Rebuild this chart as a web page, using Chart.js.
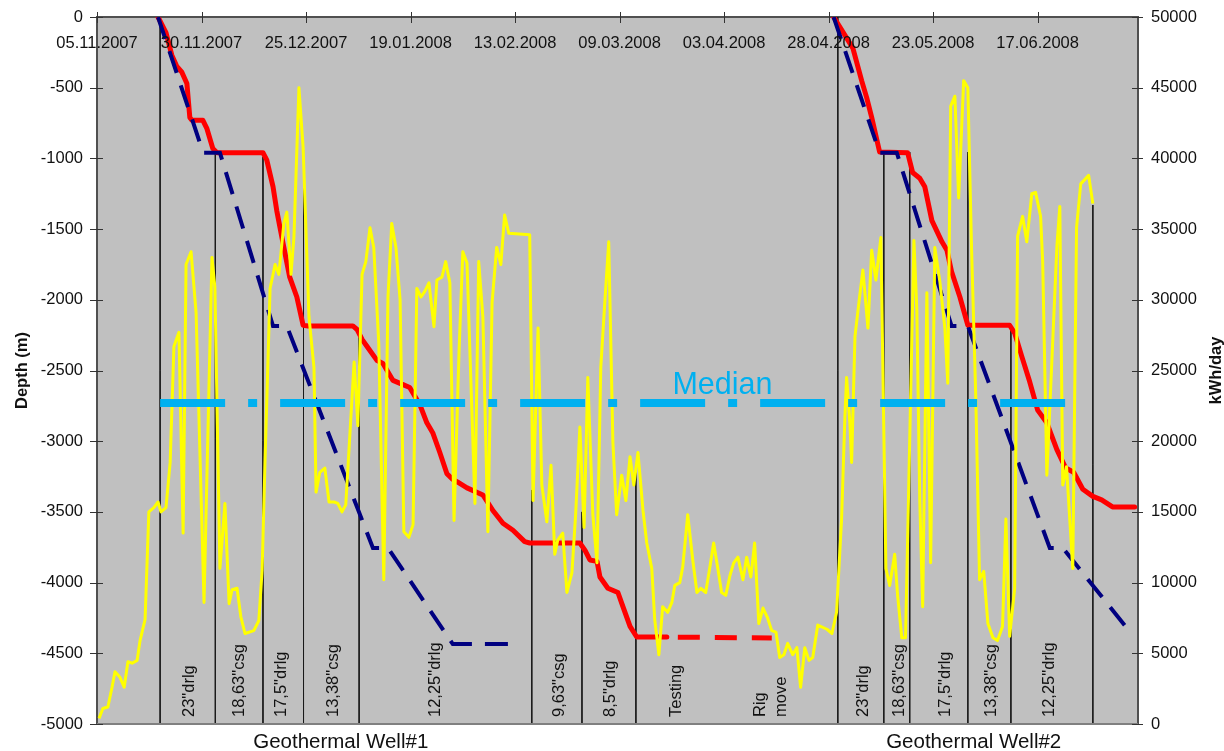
<!DOCTYPE html>
<html>
<head>
<meta charset="utf-8">
<title>Geothermal wells - depth and kWh/day</title>
<script src="https://cdn.jsdelivr.net/npm/chart.js@4.4.1/dist/chart.umd.min.js"></script>
<style>
  html, body { margin: 0; padding: 0; background: #ffffff; }
  #wrap { width: 1224px; height: 751px; }
</style>
</head>
<body>
<div id="wrap"><canvas id="chart" width="1224" height="751"></canvas></div>
<script>
// ---- date axis labels (tick every 25 days) ----
const dateLabels = ['05.11.2007', '30.11.2007', '25.12.2007', '19.01.2008', '13.02.2008',
                    '09.03.2008', '03.04.2008', '28.04.2008', '23.05.2008', '17.06.2008'];
const lastDay = 249; // 11.07.2008

// ---- actual drilling depth (m), days since 05.11.2007 ----
const actualDays = [14.6,16.5,17.9,19.1,20.3,21.5,22.2,22.7,25.3,26.3,27.7,28.7,39.7,40.6,42.1,43.0,44.5,46.1,47.8,49.3,
  50.5,61.2,62.2,63.4,64.6,67.0,68.4,70.8,73.2,74.8,77.2,78.9,80.3,82.0,83.7,85.1,86.3,88.5,92.3,94.7,
  97.1,99.5,102.3,103.5,115.5,116.7,117.9,119.6,120.3,122.2,124.6,125.8,127.5,129.1,136.3,
  null,
  176.2,180.8,182.9,184.1,185.3,187.2,193.9,195.1,196.8,198.0,199.7,202.1,203.3,204.4,206.4,208.3,
  218.3,219.5,221.2,223.1,225.0,227.2,229.6,231.7,233.6,235.8,238.2,240.3,242.9,248.2];
const actualDepth = [0,-110,-270,-350,-390,-470,-710,-730,-730,-790,-930,-960,-960,-1010,-1200,-1370,-1600,-1840,-1980,-2180,
  -2185,-2185,-2210,-2280,-2330,-2430,-2450,-2570,-2600,-2620,-2740,-2870,-2940,-3080,-3230,-3270,-3290,-3330,-3380,-3490,
  -3580,-3630,-3710,-3720,-3720,-3770,-3840,-3850,-3960,-4040,-4070,-4170,-4310,-4385,-4385,
  null,
  0,-220,-450,-570,-710,-955,-960,-1100,-1140,-1200,-1440,-1590,-1650,-1800,-1980,-2180,
  -2180,-2235,-2400,-2580,-2780,-2870,-3060,-3190,-3220,-3340,-3390,-3415,-3465,-3465];

// ---- testing period (well #1 at final depth) ----
const testingDays = [136.3, 161.4];
const testingDepth = [-4385, -4392];

// ---- planned depth (m) ----
const planDays = [14.6,25.4,29.4,42.1,45.4,66.0,69.6,85.1,100.7, null,
  176.2,187.2,191.3,204.4,208.3,227.9,231.0,247.5];
const planDepth = [0,-960,-960,-2185,-2185,-3755,-3755,-4435,-4435, null,
  0,-960,-960,-2185,-2185,-3755,-3755,-4364];

// ---- energy consumption (kWh/day) ----
const energyDays = [0.5,1.4,2.6,3.6,4.3,5.5,6.5,7.4,8.4,9.6,
  10.3,11.5,12.4,13.6,14.6,15.3,16.5,17.5,18.4,19.6,
  20.6,21.3,22.5,23.7,25.6,27.5,28.2,29.4,30.6,31.6,
  32.3,33.5,34.4,35.4,37.5,38.7,39.5,40.2,41.4,42.6,
  43.5,44.7,45.4,46.4,47.1,48.3,49.3,50.7,51.9,52.4,
  53.3,54.5,55.5,56.7,57.6,58.6,59.5,61.5,62.4,63.4,
  64.3,65.3,66.2,67.4,68.6,69.6,70.5,71.5,72.5,73.4,
  74.6,75.6,76.5,77.5,78.4,79.4,80.6,81.3,82.5,83.4,
  84.4,85.4,86.6,87.5,88.5,90.4,91.3,92.3,93.5,94.5,
  95.6,96.6,97.5,98.5,103.5,104.3,105.5,106.4,107.6,108.6,
  109.5,110.2,111.4,112.4,113.6,114.5,115.5,116.5,117.4,118.6,
  119.6,120.5,121.5,122.4,123.4,124.3,125.5,126.5,127.5,128.4,
  129.4,130.6,131.5,132.7,133.4,134.4,135.3,136.5,137.5,138.2,
  139.4,140.1,141.3,142.5,143.5,144.4,145.6,146.6,147.5,148.5,
  149.4,150.4,151.4,152.3,153.3,154.5,155.4,156.4,157.3,158.3,
  159.3,160.4,161.4,162.4,163.3,164.3,165.2,166.4,167.4,168.3,
  169.3,170.3,171.2,172.4,174.6,175.8,176.9,178.1,178.9,179.3,
  180.1,180.5,181.3,182.4,183.2,184.4,185.3,186.3,187.5,188.7,
  189.6,190.8,191.5,192.5,193.4,195.4,196.1,196.8,197.5,198.5,
  199.4,200.4,201.6,202.8,203.5,204.2,205.2,206.1,207.3,208.3,
  209.2,210.2,211.1,212.1,213.1,214.3,215.4,216.6,217.4,218.3,
  219.5,220.2,221.4,222.4,223.6,224.5,225.7,226.2,227.2,229.6,
  230.3,231.0,231.9,233.4,234.3,235.3,237.2,238.2];
const energyKwh = [400,1100,1200,2600,3700,3300,2600,4400,4300,4500,
  5900,7400,15000,15300,15700,15000,15300,18500,26700,27700,
  13500,32500,33400,29100,8600,33000,30900,11000,15600,8500,
  9500,9600,7600,6400,6600,7300,10900,18700,30800,32500,
  31800,35400,36200,31800,34400,45000,40800,28800,25200,16400,
  17800,18100,15700,15700,15600,15000,15500,25600,21100,31800,
  32700,35100,33700,26900,10200,30200,35400,33700,30000,13600,
  13200,14100,30800,30200,30600,31200,28100,31400,31600,32700,
  31200,14400,26400,33400,32600,15600,32700,28800,13600,29800,
  33700,32500,36000,34700,34600,15800,28000,16900,14300,18300,
  12000,13000,13500,9300,10700,14900,21000,13900,24500,14800,
  11400,25200,30000,34100,19900,14800,17600,15800,18900,16900,
  19200,15100,12800,11000,7400,4900,8300,7900,8600,9800,
  10000,11100,14800,11600,9300,9600,9300,11100,12800,11000,
  9300,9100,10500,11400,11800,10200,11800,10400,12800,7100,
  8200,7500,6600,6500,4700,4900,5700,4900,5400,2600,
  5400,4500,4700,7000,6700,6400,7900,14500,21800,24500,
  21200,18500,27400,30200,32100,28000,33500,31400,34400,11000,
  9800,12000,9100,6100,6100,34200,29300,15800,8300,30500,
  11400,33700,31300,28000,24100,43700,44400,37200,45500,45000,
  33500,23100,10200,10800,7100,6100,5900,6900,14500,6200,
  9600,34500,35900,34100,37500,37600,35900,32700,17600,33800,
  36600,16900,18200,11000,35100,38200,38800,36800];

// ---- median of kWh/day ----
const medianKwh = 22700;
const medianDays = [15.1, 231.7];

// ---- operation phase boundaries (day, depth where the marker starts) ----
const phaseDays = [15.1,28.3,39.7,49.4,62.7,104.0,116.0,128.9,177.2,188.2,194.4,208.3,218.6,238.2];
const phaseTopDepth = [0,-960,-990,-940,-2265,-3345,-3500,-3200,0,-955,-955,-955,-2180,-1330];

// ---- phase names and where they are written (day) ----
const phaseNames = ['23"drlg','18,63"csg','17,5"drlg','13,38"csg','12,25"drlg','9,63"csg','8,5"drlg',
  'Testing','Rig\nmove','23"drlg','18,63"csg','17,5"drlg','13,38"csg','12,25"drlg'];
const phaseNameDays = [22.2,34.2,44.2,56.7,81.1,110.7,122.9,138.7,161.3,183.4,192.0,203.0,214.0,227.9];

const wellNames = ['Geothermal Well#1', 'Geothermal Well#2'];
const wellNameDays = [58.3, 209.7];

// ---- helpers ----
function dayOf(label) {
  const p = s => s.split('.').map(Number);
  const [d, m, y] = p(label);
  const [d0, m0, y0] = p(dateLabels[0]);
  return Math.round((Date.UTC(y, m - 1, d) - Date.UTC(y0, m0 - 1, d0)) / 864e5);
}
const zip = (xs, ys) => xs.map((x, i) => ({ x: x, y: ys[i] }));

const phasePoints = [];
phaseDays.forEach((d, i) => {
  phasePoints.push({ x: d, y: phaseTopDepth[i] }, { x: d, y: -5000 }, { x: d, y: null });
});

const FONT = '"Liberation Sans", Arial, sans-serif';
const TEXT = '#111111';
Chart.defaults.font.family = FONT;
Chart.defaults.font.size = 16.5;
Chart.defaults.color = TEXT;

// background, tick marks and all text annotations
const decorations = {
  id: 'decorations',
  beforeDraw(chart) {
    const { ctx, chartArea: a } = chart;
    ctx.save();
    ctx.fillStyle = '#ffffff';
    ctx.fillRect(0, 0, chart.width, chart.height);
    ctx.fillStyle = '#c0c0c0';
    ctx.fillRect(a.left, a.top, a.right - a.left, a.bottom - a.top);
    ctx.restore();
  },
  afterDraw(chart) {
    const { ctx, chartArea: a, scales } = chart;
    const xs = scales.x, ys = scales.y, y2 = scales.y2;
    ctx.save();

    // bottom edge of the plot area
    ctx.strokeStyle = '#808080';
    ctx.lineWidth = 2;
    ctx.beginPath();
    ctx.moveTo(a.left, a.bottom);
    ctx.lineTo(a.right, a.bottom);
    ctx.stroke();

    // crossing tick marks
    ctx.strokeStyle = '#333333';
    ctx.lineWidth = 1;
    ctx.beginPath();
    xs.ticks.forEach(t => {
      const px = Math.round(xs.getPixelForValue(t.value)) + 0.5;
      ctx.moveTo(px, a.top - 5); ctx.lineTo(px, a.top + 6);
    });
    ys.ticks.forEach(t => {
      const py = Math.round(ys.getPixelForValue(t.value)) + 0.5;
      ctx.moveTo(a.left - 7, py); ctx.lineTo(a.left + 6, py);
    });
    y2.ticks.forEach(t => {
      const py = Math.round(y2.getPixelForValue(t.value)) + 0.5;
      ctx.moveTo(a.right - 6, py); ctx.lineTo(a.right + 5, py);
    });
    ctx.stroke();

    // date labels under the top axis line
    ctx.fillStyle = TEXT;
    ctx.font = '16.5px ' + FONT;
    ctx.textAlign = 'center';
    ctx.textBaseline = 'alphabetic';
    dateLabels.forEach(lbl => {
      ctx.fillText(lbl, xs.getPixelForValue(dayOf(lbl)), a.top + 31);
    });

    // vertical phase names
    const lineGap = 21;
    phaseNames.forEach((name, i) => {
      const lines = name.split('\n');
      const cx = xs.getPixelForValue(phaseNameDays[i]);
      lines.forEach((ln, j) => {
        const lx = cx + (j - (lines.length - 1) / 2) * lineGap + 4.3;
        ctx.save();
        ctx.translate(lx, a.bottom - 7);
        ctx.rotate(-Math.PI / 2);
        ctx.textAlign = 'left';
        ctx.fillText(ln, 0, 0);
        ctx.restore();
      });
    });

    // well names under the plot
    ctx.font = '20.5px ' + FONT;
    ctx.textAlign = 'center';
    wellNames.forEach((w, i) => {
      ctx.fillText(w, xs.getPixelForValue(wellNameDays[i]), a.bottom + 24);
    });

    // median label
    ctx.fillStyle = '#00b0f0';
    ctx.font = '30.5px ' + FONT;
    ctx.fillText('Median', xs.getPixelForValue(149.6), y2.getPixelForValue(medianKwh) - 9);

    // axis titles
    ctx.fillStyle = TEXT;
    ctx.font = 'bold 16.5px ' + FONT;
    const cy = (a.top + a.bottom) / 2;
    ctx.save();
    ctx.translate(26.5, cy);
    ctx.rotate(-Math.PI / 2);
    ctx.textAlign = 'center';
    ctx.fillText('Depth (m)', 0, 0);
    ctx.restore();
    ctx.save();
    ctx.translate(a.right + 83, cy);
    ctx.rotate(-Math.PI / 2);
    ctx.textAlign = 'center';
    ctx.fillText('kWh/day', 0, 0);
    ctx.restore();

    ctx.restore();
  }
};

new Chart(document.getElementById('chart'), {
  type: 'line',
  data: {
    datasets: [
      {
        label: 'Median',
        data: zip(medianDays, [medianKwh, medianKwh]),
        yAxisID: 'y2',
        borderColor: '#00b0f0',
        borderWidth: 8,
        borderDash: [65, 23, 9, 23],
        borderCapStyle: 'butt',
        pointRadius: 0
      },
      {
        label: 'kWh/day',
        data: zip(energyDays, energyKwh),
        yAxisID: 'y2',
        borderColor: '#ffff00',
        borderWidth: 3,
        borderJoinStyle: 'round',
        pointRadius: 0
      },
      {
        label: 'Planned depth',
        data: zip(planDays, planDepth),
        yAxisID: 'y',
        borderColor: '#000080',
        borderWidth: 4,
        borderDash: [23, 13],
        borderCapStyle: 'butt',
        pointRadius: 0
      },
      {
        label: 'Actual depth',
        data: zip(actualDays, actualDepth),
        yAxisID: 'y',
        borderColor: '#ff0000',
        borderWidth: 5,
        borderJoinStyle: 'round',
        borderCapStyle: 'round',
        pointRadius: 0
      },
      {
        label: 'Testing',
        data: zip(testingDays, testingDepth),
        yAxisID: 'y',
        borderColor: '#ff0000',
        borderWidth: 5,
        borderDash: [22, 15],
        borderDashOffset: 26,
        borderCapStyle: 'butt',
        pointRadius: 0
      },
      {
        label: 'Phases',
        data: phasePoints,
        yAxisID: 'y',
        borderColor: '#1a1a1a',
        borderWidth: 1,
        pointRadius: 0
      }
    ]
  },
  options: {
    responsive: false,
    animation: false,
    devicePixelRatio: 1,
    events: [],
    layout: { padding: { top: 0, right: 0, bottom: 27, left: 0 } },
    plugins: { legend: { display: false }, tooltip: { enabled: false } },
    scales: {
      x: {
        type: 'linear',
        position: 'top',
        min: 0,
        max: lastDay,
        grid: { display: false, drawTicks: false },
        border: { display: true, color: '#505050', width: 2 },
        ticks: { display: false },
        afterBuildTicks: s => { s.ticks = dateLabels.map(l => ({ value: dayOf(l) })); },
        afterFit: s => { s.height = 17; }
      },
      y: {
        type: 'linear',
        position: 'left',
        min: -5000,
        max: 0,
        grid: { display: false, drawTicks: false },
        border: { display: true, color: '#505050', width: 2 },
        ticks: { stepSize: 500, padding: 14, color: TEXT, autoSkip: false, callback: v => String(v) },
        afterFit: s => { s.width = 97; s.paddingTop = 0; s.paddingBottom = 0; }
      },
      y2: {
        type: 'linear',
        position: 'right',
        min: 0,
        max: 50000,
        grid: { display: false, drawTicks: false },
        border: { display: true, color: '#505050', width: 2 },
        ticks: { stepSize: 5000, padding: 13, color: TEXT, autoSkip: false, callback: v => String(v) },
        afterFit: s => { s.width = 86; s.paddingTop = 0; s.paddingBottom = 0; }
      }
    }
  },
  plugins: [decorations]
});
</script>
</body>
</html>
